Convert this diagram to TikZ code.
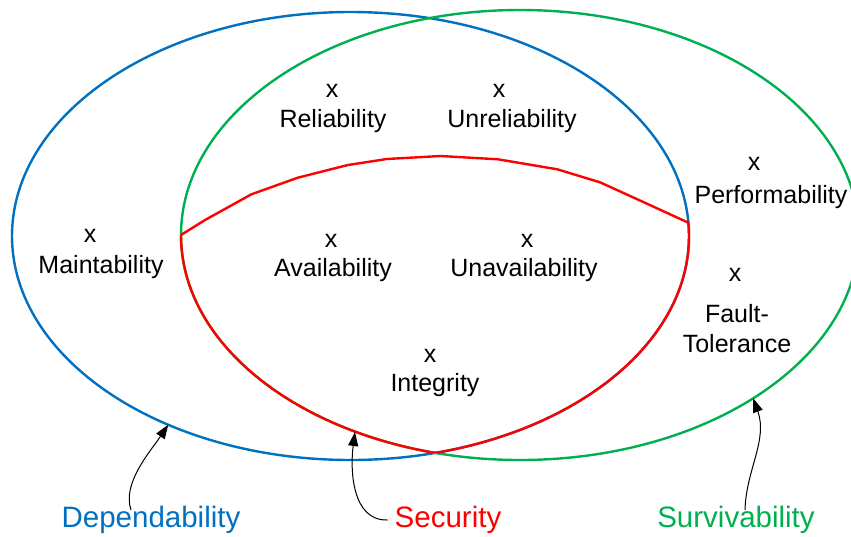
\documentclass[tikz,border=0pt]{standalone}
\usepackage{fontspec}
\setmainfont{Liberation Sans}
\usetikzlibrary{shapes.geometric,arrows.meta}
\definecolor{depblue}{HTML}{0070C0}
\definecolor{survgreen}{HTML}{00B050}
\definecolor{secred}{HTML}{FF0000}
\begin{document}
\begin{tikzpicture}[x=1pt,y=-1pt,
  setline/.style={line width=2.4pt},
  setshape/.style={ellipse, draw, setline, inner sep=0pt, outer sep=0pt},
  itemtext/.style={inner sep=0pt, font=\fontsize{25}{29}\selectfont},
  itemx/.style={inner sep=0pt, font=\fontsize{25}{29}\selectfont},
  setname/.style={inner sep=0pt, font=\fontsize{29.5}{34}\selectfont},
  pointer/.style={-{Triangle[length=14pt,width=10pt]}, line width=1pt, black}]
\useasboundingbox (0,0) rectangle (851,536);

% the two large sets
\node[setshape, draw=depblue, minimum width=677pt, minimum height=448pt] (dep) at (350.5,236) {};
\node[setshape, draw=survgreen, minimum width=678pt, minimum height=450pt] (surv) at (520,235) {};

% upper boundary of the security region
\coordinate (p1) at (181,235);
\coordinate (p2) at (205,220);
\coordinate (p3) at (251.4,194.3);
\coordinate (p4) at (297.8,177.7);
\coordinate (p5) at (347.9,165);
\coordinate (p6) at (386.8,159);
\coordinate (p7) at (440.5,156);
\coordinate (p8) at (498,159.3);
\coordinate (p9) at (557.3,169.3);
\coordinate (p10) at (600,182.3);
\coordinate (p11) at (642.6,201.7);
\coordinate (p12) at (689,223);
\draw[setline, secred] (p1) -- (p2) -- (p3) -- (p4) -- (p5) -- (p6) -- (p7)
  -- (p8) -- (p9) -- (p10) -- (p11) -- (p12);

% lower boundary: green arc inside the blue set, blue arc inside the green set
\begin{scope}
  \clip (350.5,236) ellipse [x radius=338.5pt, y radius=224pt];
  \clip (0,235) -- (p1) -- (p2) -- (p3) -- (p4) -- (p5) -- (p6) -- (p7) -- (p8)
    -- (p9) -- (p10) -- (p11) -- (p12) -- (851,223) -- (851,536) -- (0,536) -- cycle;
  \draw[setline, secred] (520,235) ellipse [x radius=339pt, y radius=225pt];
\end{scope}
\begin{scope}
  \clip (520,235) ellipse [x radius=339pt, y radius=225pt];
  \clip (0,235) -- (p1) -- (p2) -- (p3) -- (p4) -- (p5) -- (p6) -- (p7) -- (p8)
    -- (p9) -- (p10) -- (p11) -- (p12) -- (851,223) -- (851,536) -- (0,536) -- cycle;
  \draw[setline, secred] (350.5,236) ellipse [x radius=338.5pt, y radius=224pt];
\end{scope}

% attributes
\node[itemx] (xmaint) at (90,236) {x};
\node[itemtext] (maint) at (101,267) {Maintability};
\node[itemx] (xrel) at (332,91) {x};
\node[itemtext] (rel) at (333,121) {Reliability};
\node[itemx] (xunrel) at (499,91) {x};
\node[itemtext] (unrel) at (512,121) {Unreliability};
\node[itemx] (xperf) at (754,164) {x};
\node[itemtext] (perf) at (771,197) {Performability};
\node[itemx] (xavail) at (331,241) {x};
\node[itemtext] (avail) at (333,270) {Availability};
\node[itemx] (xunavail) at (527,241) {x};
\node[itemtext] (unavail) at (524,270) {Unavailability};
\node[itemx] (xfault) at (735,275) {x};
\node[itemtext] (fault) at (737,314) {Fault-};
\node[itemtext] (tol) at (737,344) {Tolerance};
\node[itemx] (xinteg) at (430,356) {x};
\node[itemtext] (integ) at (435,385) {Integrity};

% set names
\node[setname, text=depblue] (deplabel) at (151,520) {Dependability};
\node[setname, text=secred] (seclabel) at (448,520) {Security};
\node[setname, text=survgreen] (survlabel) at (736,520) {Survivability};

% pointers from the names to their sets
\coordinate (sectip) at (355,432);
\draw[pointer] ([xshift=-20pt, yshift=-4pt]deplabel.north) .. controls (122,483) and (150,452) .. (dep.226);
\draw[pointer] ([xshift=-7pt]seclabel.west) .. controls (352,521) and (350,470) .. (sectip);
\draw[pointer] ([xshift=9pt, yshift=-4pt]survlabel.north) .. controls (746,470) and (768,440) .. (surv.325);
\end{tikzpicture}
\end{document}
